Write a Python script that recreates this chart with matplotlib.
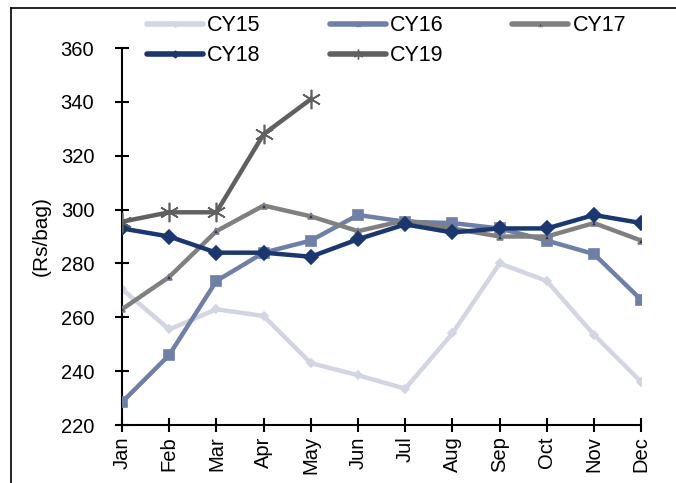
import matplotlib.pyplot as plt
import matplotlib.lines as mlines

plt.rcParams['font.family'] = ['Liberation Sans', 'DejaVu Sans']

months = ["Jan", "Feb", "Mar", "Apr", "May", "Jun",
          "Jul", "Aug", "Sep", "Oct", "Nov", "Dec"]

# cement price per bag, by calendar year
cy15 = [270.5, 255.5, 263, 260.5, 243, 238.5, 233.5, 254, 280, 273.5, 253.5, 236]
cy16 = [228.5, 246, 273.5, 284, 288.5, 298, 295.5, 295, 293, 288.5, 283.5, 266.5]
cy17 = [263, 275, 292, 301.5, 297.5, 292, 296, 293, 290, 290, 295, 288.5]
cy18 = [293, 290, 284, 284, 282.5, 289, 294.5, 291.5, 293, 293, 298, 295]
cy19 = [295.5, 299, 299, 328, 341]

y_ticks = [220, 240, 260, 280, 300, 320, 340, 360]

# per-series style: (data, label, line colour, marker, size, face, edge)
series = [
    (cy15, "CY15", "#D1D6E2", "D", 4, "#D1D6E2", "#D1D6E2"),
    (cy16, "CY16", "#6E80A7", "s", 7, "#6E80A7", "#6E80A7"),
    (cy17, "CY17", "#808080", "^", 5, "#1B3770", "#808080"),
    (cy18, "CY18", "#1B3770", "D", 7, "#1B3770", "#1B3770"),
    (cy19, "CY19", "#606060", (6, 2, 0), 14, "#606060", "#606060"),
]

fig = plt.figure(figsize=(6.76, 4.83), dpi=100)
ax = fig.add_axes([0.1805, 0.12, 0.768, 0.7806])

x = list(range(len(months)))

legend_handles = []
for z, (vals, name, col, mk, ms, fc, ec) in enumerate(series):
    ax.plot(x[:len(vals)], vals, color=col, lw=3.2, marker=mk, ms=ms,
            mfc=fc, mec=ec, mew=1.2, zorder=2 + z)
    # smaller markers for the legend keys
    legend_handles.append(mlines.Line2D([], [], color=col, lw=4, marker=mk,
                                        ms=max(3, ms * 0.5), mfc=fc, mec=ec,
                                        solid_capstyle="round", label=name))

ax.set_xlim(0, 11)
ax.set_ylim(220, 360)
ax.set_xticks(x)
ax.set_xticklabels(months, rotation=90, fontsize=14.5)
ax.set_yticks(y_ticks)
ax.tick_params(axis="y", labelsize=14.5, direction="inout", length=10, width=1.5, pad=15)
ax.tick_params(axis="x", direction="inout", length=10, width=1.5, pad=3)
ax.set_ylabel("(Rs/bag)", fontsize=15, labelpad=7)

for side in ["top", "right"]:
    ax.spines[side].set_visible(False)
for side in ["left", "bottom"]:
    ax.spines[side].set_linewidth(1.5)

order = [0, 3, 1, 4, 2]
fig.legend([legend_handles[i] for i in order], [series[i][1] for i in order],
           ncol=3, loc="upper left", bbox_to_anchor=(0.2175, 0.968),
           frameon=False, fontsize=15.5, handlelength=2.6, handletextpad=0.2,
           columnspacing=3.2, labelspacing=0.4, borderaxespad=0, borderpad=0)

# outer frame lines along the top and left of the figure
fig.add_artist(mlines.Line2D([0.016, 1.0], [0.984, 0.984], color="black", lw=1.2,
                             transform=fig.transFigure))
fig.add_artist(mlines.Line2D([0.016, 0.016], [0.0, 0.984], color="black", lw=1.2,
                             transform=fig.transFigure))

fig.savefig("out.png", dpi=100)
